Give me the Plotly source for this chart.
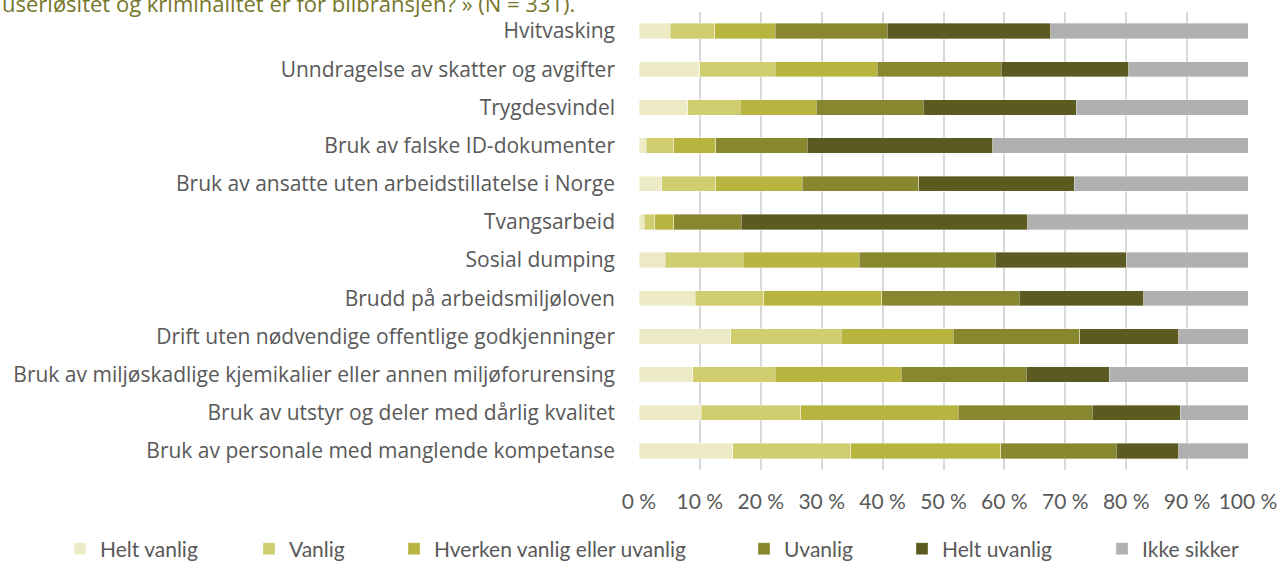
import plotly.graph_objects as go

# Categories, top to bottom
categories = [
    "Hvitvasking",
    "Unndragelse av skatter og avgifter",
    "Trygdesvindel",
    "Bruk av falske ID-dokumenter",
    "Bruk av ansatte uten arbeidstillatelse i Norge",
    "Tvangsarbeid",
    "Sosial dumping",
    "Brudd på arbeidsmiljøloven",
    "Drift uten nødvendige offentlige godkjenninger",
    "Bruk av miljøskadlige kjemikalier eller annen miljøforurensing",
    "Bruk av utstyr og deler med dårlig kvalitet",
    "Bruk av personale med manglende kompetanse",
]

# Share of answers (%) per response option
helt_vanlig = [5.1, 10.0, 8.0, 1.2, 3.7, 0.9, 4.3, 9.2, 15.1, 8.8, 10.2, 15.4]
vanlig = [7.3, 12.4, 8.6, 4.5, 8.9, 1.7, 12.8, 11.3, 18.1, 13.6, 16.4, 19.4]
hverken = [10.0, 16.7, 12.5, 6.9, 14.2, 3.1, 19.1, 19.4, 18.4, 20.7, 25.8, 24.6]
uvanlig = [18.4, 20.4, 17.6, 15.0, 19.1, 11.1, 22.3, 22.5, 20.8, 20.5, 22.0, 19.0]
helt_uvanlig = [26.8, 20.9, 25.1, 30.5, 25.6, 47.0, 21.5, 20.5, 16.2, 13.6, 14.5, 10.2]
ikke_sikker = [32.4, 19.6, 28.2, 41.9, 28.5, 36.2, 20.0, 17.1, 11.4, 22.8, 11.1, 11.4]

series_names = ["Helt vanlig", "Vanlig", "Hverken vanlig eller uvanlig",
                "Uvanlig", "Helt uvanlig", "Ikke sikker"]
series_values = [helt_vanlig, vanlig, hverken, uvanlig, helt_uvanlig, ikke_sikker]
series_colors = ["#EDEBC6", "#D0CD6F", "#B7B43F", "#88872F", "#5B5A20", "#B0B0B0"]

tick_vals = list(range(0, 101, 10))
tick_text = [f"{v} %" for v in tick_vals]

W, H = 1281, 561
# left edge (px) of each legend entry along the bottom row
legend_left_px = [60, 249, 394, 744, 902, 1102]

fig = go.Figure()
legend_layouts = {}
for i, (name, vals, col) in enumerate(zip(series_names, series_values, series_colors)):
    key = "legend" if i == 0 else f"legend{i + 1}"
    fig.add_trace(go.Bar(
        y=categories, x=vals, name=name, orientation="h",
        marker=dict(color=col, line=dict(color="rgba(255,255,255,0.6)", width=0.6)),
        hoverinfo="x+y+name", legend=key,
    ))
    legend_layouts[key] = dict(
        orientation="h", xref="container", yref="container",
        x=legend_left_px[i] / W, xanchor="left",
        y=1 - 549 / H, yanchor="middle",
        bgcolor="rgba(0,0,0,0)", borderwidth=0,
        font=dict(family="Lato", size=21, color="#595959"),
        itemwidth=30,
    )

fig.update_layout(
    template="none",
    barmode="stack",
    bargap=0.6,
    width=W, height=H,
    margin=dict(l=639, r=33, t=12, b=91, autoexpand=False),
    paper_bgcolor="white", plot_bgcolor="white",
    font=dict(family="Open Sans", color="#595959"),
    showlegend=True,
    xaxis=dict(
        range=[0, 100], tickvals=tick_vals, ticktext=tick_text,
        showgrid=True, gridcolor="#D9D9D9", gridwidth=1.5,
        zeroline=False, showline=False, ticks="",
        tickfont=dict(family="Lato", size=21, color="#595959"),
        ticklabelstandoff=17,
        automargin=False,
    ),
    yaxis=dict(
        categoryorder="array", categoryarray=categories,
        autorange="reversed", showgrid=False, zeroline=False,
        showline=False, ticks="", ticklabelstandoff=23,
        tickfont=dict(family="Open Sans", size=21, color="#595959"),
        automargin=False,
    ),
    **legend_layouts,
)

fig.add_annotation(
    text="useriøsitet og kriminalitet er for bilbransjen? » (N = 331).",
    xref="paper", yref="paper", x=0, xshift=-639, y=1, yshift=-8,
    xanchor="left", yanchor="bottom", showarrow=False,
    font=dict(family="Open Sans", size=22, color="#76762A"),
)

fig.write_html("out.html")
